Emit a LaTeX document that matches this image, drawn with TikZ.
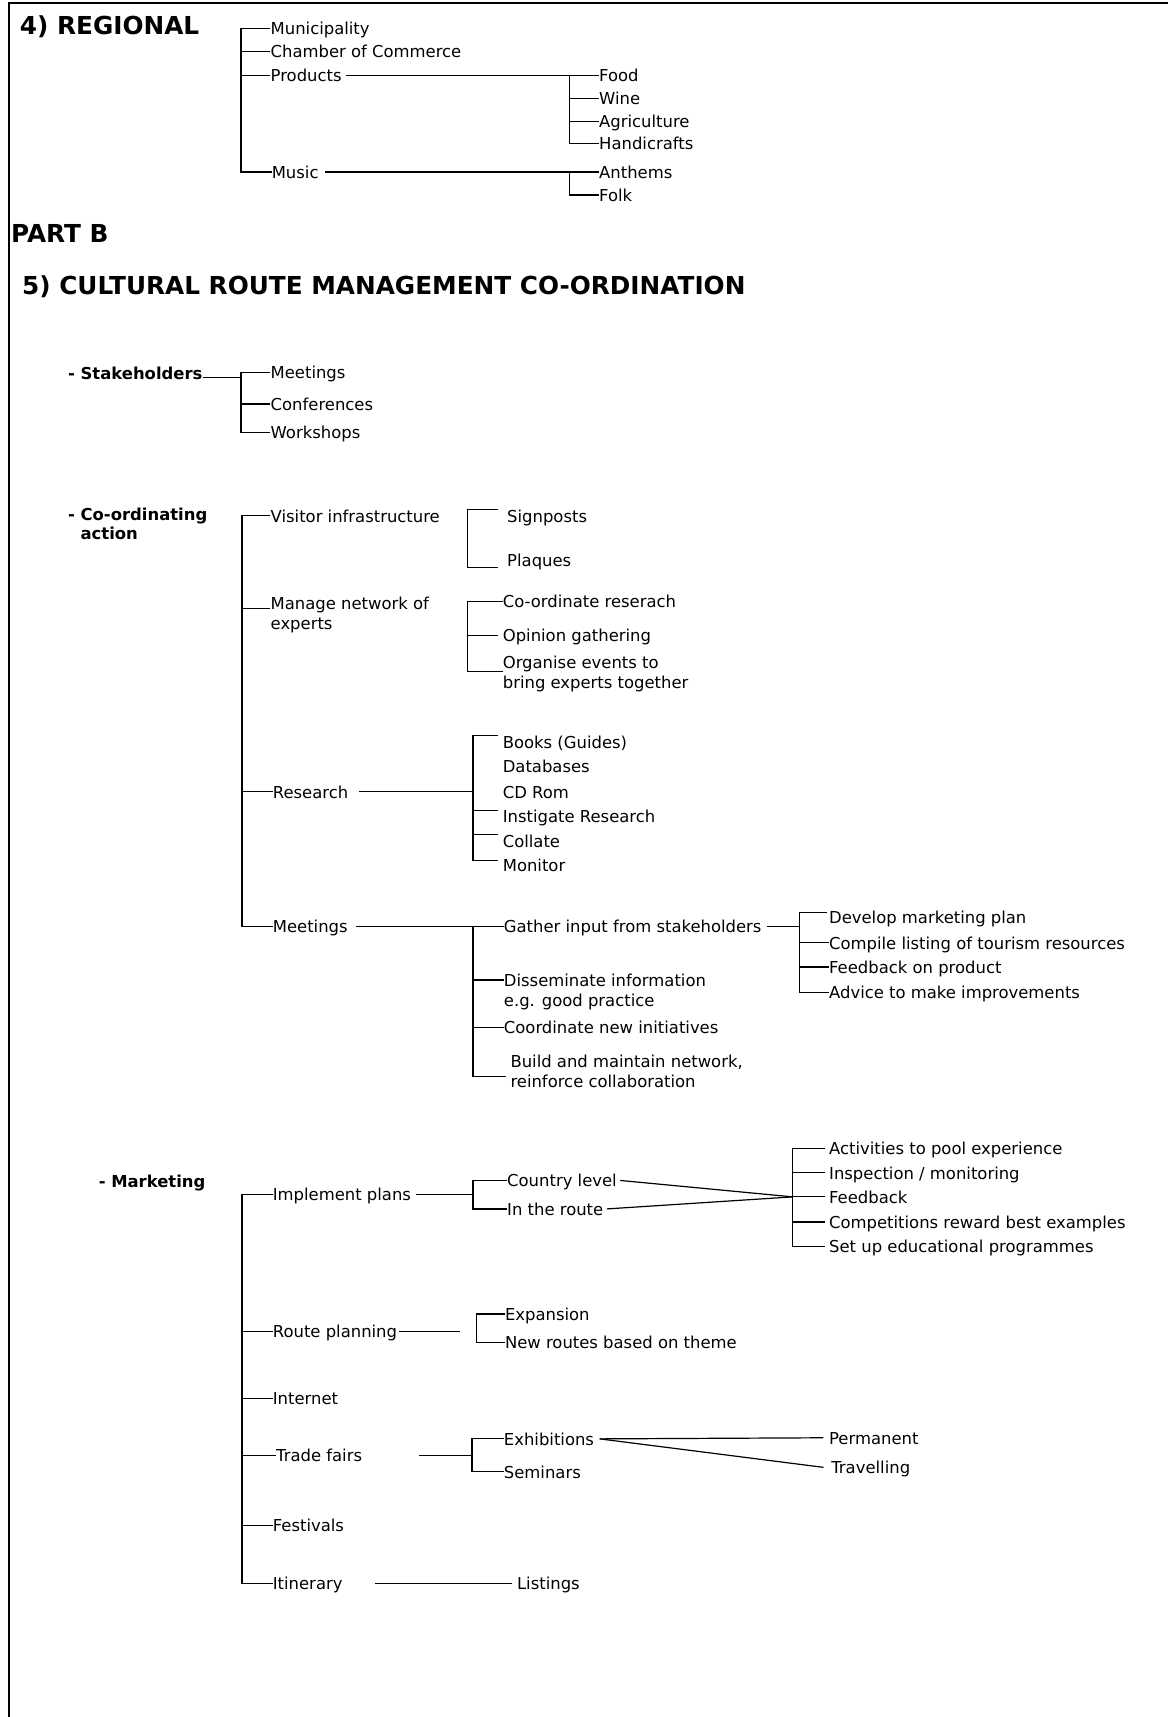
\documentclass[tikz,border=0pt]{standalone}
\usepackage{fontspec}
\setmainfont{DejaVu Sans}
\begin{document}
\begin{tikzpicture}[x=1pt,y=-1pt,
  lbl/.style={anchor=west,inner sep=0pt,font=\fontsize{15}{18.5}\selectfont,text height=13pt,text depth=1.5pt},
  lbltwo/.style={anchor=north west,inner sep=0pt,align=left,font=\fontsize{15}{18.5}\selectfont},
  ttl/.style={anchor=west,inner sep=0pt,font=\bfseries\fontsize{22.6}{27}\selectfont,text height=17.5pt,text depth=1pt},
  sublbl/.style={anchor=west,inner sep=0pt,font=\bfseries\fontsize{15}{18.5}\selectfont,text height=13pt,text depth=1.5pt},
  subtwo/.style={anchor=north west,inner sep=0pt,align=left,font=\bfseries\fontsize{15}{17.5}\selectfont},
  con/.style={line width=1.1pt},
  frm/.style={line width=2pt}]
\useasboundingbox (0,0) rectangle (1067,1568);
\fill[white] (0,0) rectangle (1067,1568);
% frame
\coordinate (fbl) at (8,1568);
\coordinate (ftl) at (8,3);
\coordinate (ftr) at (1067,3);
\draw[frm] (fbl) -- (ftl) -- (ftr);

% ---------- 4) REGIONAL ----------
\node[ttl] (t4) at (18,23) {4) REGIONAL};
\node[lbl] (mun) at (247,26) {Municipality};
\node[lbl] (coc) at (247,47) {Chamber of Commerce};
\node[lbl] (prod) at (247,69) {Products};
\node[lbl] (mus) at (248,157) {Music};
\node[lbl] (food) at (547,69) {Food};
\node[lbl] (wine) at (547,90) {Wine};
\node[lbl] (agri) at (547,111) {Agriculture};
\node[lbl] (handi) at (547,131) {Handicrafts};
\node[lbl] (anth) at (547,157) {Anthems};
\node[lbl] (folk) at (547,178) {Folk};
\coordinate (rj) at (220,26);
\draw[con] (mun.west) -- (rj) |- (mus.west);
\draw[con] (rj |- coc.west) -- (coc.west);
\draw[con] (rj |- prod.west) -- (prod.west);
\coordinate (pj) at (520,69);
\draw[con] ([xshift=4pt]prod.east) -- (food.west);
\draw[con] (pj) |- (handi.west);
\draw[con] (pj |- wine.west) -- (wine.west);
\draw[con] (pj |- agri.west) -- (agri.west);
\coordinate (mj) at (520,157);
\draw[con] ([xshift=6pt]mus.east) -- (anth.west);
\draw[con] (mj) |- (folk.west);

% ---------- PART B ----------
\node[ttl] (pb) at (10,213) {PART B};
\node[ttl] (t5) at (20,261) {5) CULTURAL ROUTE MANAGEMENT CO-ORDINATION};

% ---------- Stakeholders ----------
\node[sublbl] (stk) at (62,341) {- Stakeholders};
\node[lbl] (sm) at (247,340) {Meetings};
\node[lbl] (sc) at (247,369) {Conferences};
\node[lbl] (sw) at (247,395) {Workshops};
\coordinate (sj) at (220,340);
\coordinate (sj2) at (220,345);
\draw[con] (stk.east |- sj2) -- (sj2);
\draw[con] (sm.west) -- (sj) |- (sw.west);
\draw[con] (sj |- sc.west) -- (sc.west);

% ---------- Co-ordinating action ----------
\node[subtwo] (coa) at (62,464) {- Co-ordinating\\\phantom{- }action};
\node[lbl] (vinf) at (247,471) {Visitor infrastructure};
\node[lbltwo] (mng) at (247,545) {Manage network of\\experts};
\node[lbl] (res) at (249,723) {Research};
\node[lbl] (cm) at (249,846) {Meetings};
\coordinate (cj) at (221,471);
\coordinate (mngj) at (221,556);
\draw[con] (vinf.west) -- (cj) |- (cm.west);
\draw[con] (mngj) -- (mngj -| mng.west);
\draw[con] (cj |- res.west) -- (res.west);

% visitor infrastructure
\node[lbl] (sign) at (463,471) {Signposts};
\node[lbl] (plaq) at (463,512) {Plaques};
\coordinate (vbt) at (427,465);
\coordinate (vbb) at (427,518);
\coordinate (vbte) at (455,465);
\coordinate (vbbe) at (455,518);
\draw[con] (vbte) -- (vbt) -- (vbb) -- (vbbe);

% manage network
\node[lbl] (cor) at (459,549) {Co-ordinate reserach};
\node[lbl] (opi) at (459,580) {Opinion gathering};
\node[lbltwo] (org) at (459,599) {Organise events to\\bring experts together};
\coordinate (mj1) at (427,549);
\coordinate (mj2) at (427,613);
\coordinate (opie) at (455,580);
\draw[con] (cor.west) -- (mj1) -- (mj2) -- (mj2 -| org.west);
\draw[con] (mj1 |- opie) -- (opie);

% research
\node[lbl] (books) at (459,678) {Books (Guides)};
\node[lbl] (db) at (459,700) {Databases};
\node[lbl] (cdr) at (459,723) {CD Rom};
\node[lbl] (inst) at (459,745) {Instigate Research};
\node[lbl] (coll) at (459,768) {Collate};
\node[lbl] (mon) at (459,790) {Monitor};
\coordinate (rjt) at (432,672);
\coordinate (rjb) at (432,786);
\coordinate (rte) at (455,672);
\coordinate (rbe) at (455,786);
\coordinate (ist) at (455,740);
\coordinate (cst) at (455,762);
\draw[con] (rte) -- (rjt) -- (rjb) -- (rbe);
\draw[con] ([xshift=10pt]res.east) -- (rjt |- res.west);
\draw[con] (rjt |- ist) -- (ist);
\draw[con] (rjt |- cst) -- (cst);

% meetings
\node[lbl] (gath) at (460,846) {Gather input from stakeholders};
\node[lbltwo] (diss) at (460,889) {Disseminate information\\e.g. good practice};
\node[lbl] (coord) at (460,938) {Coordinate new initiatives};
\node[lbltwo] (build) at (466,963) {Build and maintain network,\\reinforce collaboration};
\coordinate (gj) at (432,846);
\coordinate (gjb) at (432,983);
\coordinate (builde) at (462,983);
\coordinate (dj) at (432,895);
\draw[con] ([xshift=7pt]cm.east) -- (gath.west);
\draw[con] (gj) -- (gjb) -- (builde);
\draw[con] (dj) -- (dj -| diss.west);
\draw[con] (gj |- coord.west) -- (coord.west);

% gather input
\node[lbl] (dev) at (757,838) {Develop marketing plan};
\node[lbl] (comp) at (757,861) {Compile listing of tourism resources};
\node[lbl] (feed) at (757,883) {Feedback on product};
\node[lbl] (adv) at (757,906) {Advice to make improvements};
\coordinate (gvt) at (730,833);
\coordinate (dve) at (755,833);
\draw[con] ([xshift=5pt]gath.east) -- (gvt |- gath.west);
\draw[con] (dve) -- (gvt) |- (adv.west);
\draw[con] (gvt |- comp.west) -- (comp.west);
\draw[con] (gvt |- feed.west) -- (feed.west);

% ---------- Marketing ----------
\node[sublbl] (mkt) at (90,1079) {- Marketing};
\node[lbl] (impl) at (249,1091) {Implement plans};
\node[lbl] (route) at (249,1216) {Route planning};
\node[lbl] (inet) at (249,1277) {Internet};
\node[lbl] (trade) at (252,1329) {Trade fairs};
\node[lbl] (fest) at (249,1393) {Festivals};
\node[lbl] (itin) at (249,1446) {Itinerary};
\coordinate (kj) at (221,1091);
\draw[con] (impl.west) -- (kj) |- (itin.west);
\draw[con] (kj |- route.west) -- (route.west);
\draw[con] (kj |- inet.west) -- (inet.west);
\draw[con] (kj |- trade.west) -- (trade.west);
\draw[con] (kj |- fest.west) -- (fest.west);

% implement plans
\node[lbl] (ctry) at (463,1078) {Country level};
\node[lbl] (inr) at (463,1104) {In the route};
\coordinate (ij) at (432,1078);
\draw[con] ([xshift=4pt]impl.east) -- (ij |- impl.west);
\draw[con] (ctry.west) -- (ij) |- (inr.west);
\node[lbl] (act) at (757,1049) {Activities to pool experience};
\node[lbl] (insp) at (757,1071) {Inspection / monitoring};
\node[lbl] (fb) at (757,1093) {Feedback};
\node[lbl] (cmpw) at (757,1116) {Competitions reward best examples};
\node[lbl] (setup) at (757,1138) {Set up educational programmes};
\coordinate (fj) at (724,1093);
\coordinate (aj) at (724,1049);
\draw[con] ([xshift=3pt]ctry.east) -- (fj);
\draw[con] ([xshift=3pt]inr.east) -- (fj);
\draw[con] ([xshift=-4pt]act.west) -- (aj) |- ([xshift=-4pt]setup.west);
\draw[con] (aj |- insp.west) -- ([xshift=-4pt]insp.west);
\draw[con] (fj) -- ([xshift=-4pt]fb.west);
\draw[con] (aj |- cmpw.west) -- ([xshift=-4pt]cmpw.west);

% route planning
\node[lbl] (exp) at (461,1200) {Expansion};
\node[lbl] (newr) at (461,1226) {New routes based on theme};
\coordinate (rpe) at (420,1216);
\coordinate (ej) at (435,1200);
\draw[con] ([xshift=2pt]route.east) -- (rpe);
\draw[con] (exp.west) -- (ej) |- (newr.west);

% trade fairs
\node[lbl] (exh) at (460,1314) {Exhibitions};
\node[lbl] (sem) at (460,1344) {Seminars};
\node[lbl] (perm) at (757,1313) {Permanent};
\node[lbl] (trav) at (759,1340) {Travelling};
\coordinate (tj) at (431,1314);
\coordinate (tls) at (383,1329);
\draw[con] (tls) -- (tj |- tls);
\draw[con] (exh.west) -- (tj) |- (sem.west);
\draw[con] ([xshift=5pt]exh.east) -- ([xshift=-5pt]perm.west);
\draw[con] ([xshift=5pt]exh.east) -- ([xshift=-7pt]trav.west);

% itinerary
\node[lbl] (list) at (472,1446) {Listings};
\coordinate (its) at (342,1446);
\draw[con] (its) -- ([xshift=-4pt]list.west);
\end{tikzpicture}
\end{document}
